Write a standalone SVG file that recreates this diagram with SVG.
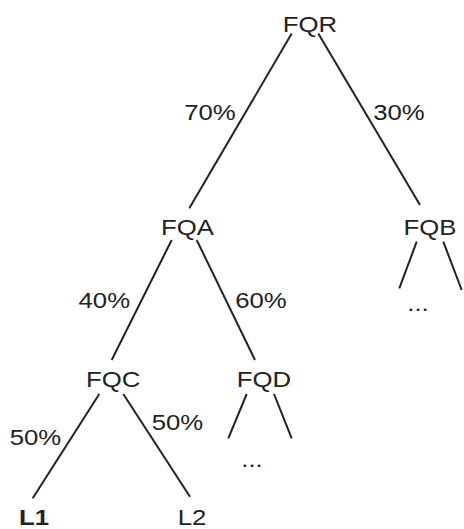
<svg xmlns="http://www.w3.org/2000/svg" width="464" height="529" viewBox="0 0 464 529">
<style>
text{font-family:"Liberation Sans",Arial,sans-serif;font-size:23px;fill:#222;text-anchor:middle}
.b{font-weight:bold}
.e line{stroke:#222;stroke-width:2;stroke-linecap:butt}
</style>
<rect width="464" height="529" fill="#fff"/>
<g class="e" id="connectors">
<line x1="291.7" y1="33.5" x2="189.3" y2="208.3"/>
<line x1="318.3" y1="33.5" x2="420" y2="205"/>
<line x1="171.7" y1="240" x2="111.7" y2="360"/>
<line x1="196.7" y1="240" x2="255" y2="360"/>
<line x1="416.7" y1="241.7" x2="399.3" y2="288.3"/>
<line x1="443.3" y1="241.7" x2="461.7" y2="290"/>
<line x1="99.3" y1="394" x2="32.7" y2="498.3"/>
<line x1="123.3" y1="394" x2="190" y2="496.7"/>
<line x1="246.7" y1="394" x2="228.3" y2="438.3"/>
<line x1="274" y1="394" x2="291.7" y2="438.3"/>
</g>
<g id="labels">
<text transform="translate(210,120) scale(1.12,1)">70%</text>
<text transform="translate(399,120) scale(1.12,1)">30%</text>
<text transform="translate(104.3,308) scale(1.12,1)">40%</text>
<text transform="translate(261,308) scale(1.12,1)">60%</text>
<text transform="translate(35.5,445) scale(1.12,1)">50%</text>
<text transform="translate(177.5,430) scale(1.12,1)">50%</text>
</g>
<g id="FQR"><text transform="translate(310,32) scale(1.12,1)">FQR</text></g>
<g id="FQA"><text transform="translate(187.5,235) scale(1.12,1)">FQA</text></g>
<g id="FQB"><text transform="translate(430,235) scale(1.12,1)">FQB</text></g>
<g id="FQB_more"><text transform="translate(418,311) scale(1.12,1)">...</text></g>
<g id="FQC"><text transform="translate(113.3,387) scale(1.12,1)">FQC</text></g>
<g id="FQD"><text transform="translate(264,387) scale(1.12,1)">FQD</text></g>
<g id="FQD_more"><text transform="translate(252,467) scale(1.12,1)">...</text></g>
<g id="L1"><text class="b" transform="translate(34,525) scale(1.12,1)">L1</text></g>
<g id="L2"><text transform="translate(192,525) scale(1.12,1)">L2</text></g>
</svg>
